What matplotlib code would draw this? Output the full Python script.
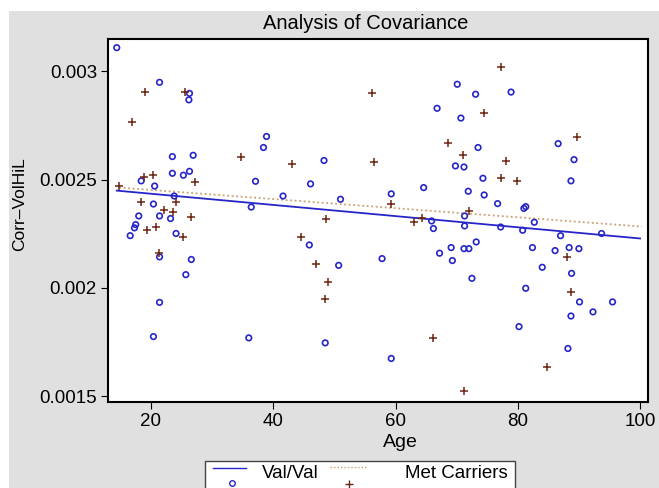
import matplotlib
matplotlib.use("Agg")
import matplotlib.pyplot as plt
from matplotlib.patches import Rectangle
from matplotlib.lines import Line2D

plt.rcParams['font.family'] = ['Liberation Sans', 'DejaVu Sans']

# Val/Val group (hollow blue circles)
valval_age = [14.4, 21.4, 26.3, 26.2, 38.9, 38.4, 23.5, 26.9, 23.5, 25.3,
              26.3, 18.4, 20.6, 37.1, 48.3, 46.1, 41.6, 51.0, 23.8, 36.4,
              20.4, 18.0, 21.4, 23.2, 17.5, 17.3, 16.6, 24.1, 45.9, 21.4,
              26.6, 25.7, 21.4, 20.4, 36.0, 50.7, 48.5, 57.8, 59.3, 67.2,
              69.1, 69.3, 71.2, 72.0, 73.2, 72.5, 80.8, 82.4, 86.1, 84.0,
              81.3, 80.2, 87.0, 88.4, 90.0, 93.7, 88.8, 90.1, 95.5, 92.3,
              88.7, 88.2, 70.1, 73.1, 78.9, 66.8, 70.7, 73.5, 86.6, 89.2,
              88.7, 69.8, 71.2, 74.3, 71.9, 74.5, 76.7, 59.3, 64.6, 81.0,
              81.3, 65.9, 66.2, 71.3, 71.3, 77.2, 82.7]
valval_corr = [0.003109, 0.002949, 0.002898, 0.002868, 0.002699, 0.002648, 0.002606, 0.002612, 0.002529, 0.002520,
               0.002538, 0.002494, 0.002470, 0.002492, 0.002588, 0.002480, 0.002424, 0.002409, 0.002424, 0.002373,
               0.002387, 0.002332, 0.002332, 0.002320, 0.002292, 0.002277, 0.002241, 0.002251, 0.002198, 0.002143,
               0.002131, 0.002061, 0.001933, 0.001775, 0.001769, 0.002104, 0.001746, 0.002135, 0.001674, 0.002160,
               0.002186, 0.002126, 0.002181, 0.002181, 0.002212, 0.002044, 0.002266, 0.002186, 0.002172, 0.002095,
               0.001998, 0.001821, 0.002241, 0.002186, 0.002181, 0.002251, 0.002067, 0.001935, 0.001935, 0.001889,
               0.001870, 0.001720, 0.002940, 0.002894, 0.002904, 0.002829, 0.002784, 0.002648, 0.002666, 0.002592,
               0.002494, 0.002563, 0.002558, 0.002506, 0.002446, 0.002429, 0.002389, 0.002434, 0.002463, 0.002367,
               0.002375, 0.002309, 0.002274, 0.002332, 0.002286, 0.002281, 0.002303]

# Met carriers (brown plus signs)
met_age = [19.1, 25.6, 16.9, 34.8, 43.0, 14.8, 18.9, 20.4, 27.2, 18.4,
           24.1, 22.1, 23.6, 26.5, 20.9, 19.4, 25.2, 48.6, 44.6, 21.3,
           47.0, 48.9, 48.4, 56.1, 56.4, 59.3, 72.1, 64.4, 63.0, 77.3,
           74.4, 68.6, 71.1, 78.0, 77.3, 79.8, 89.7, 88.0, 88.7, 66.2,
           84.8, 71.2]
met_corr = [0.002906, 0.002906, 0.002768, 0.002606, 0.002572, 0.002472, 0.002511, 0.002523, 0.002488, 0.002397,
            0.002395, 0.002358, 0.002350, 0.002329, 0.002283, 0.002267, 0.002234, 0.002317, 0.002235, 0.002163,
            0.002110, 0.002027, 0.001949, 0.002900, 0.002583, 0.002386, 0.002355, 0.002321, 0.002304, 0.003020,
            0.002809, 0.002671, 0.002612, 0.002588, 0.002505, 0.002492, 0.002697, 0.002141, 0.001980, 0.001767,
            0.001635, 0.001526]

# fitted lines (end points)
valval_fit_age = [14.4, 100.0]
valval_fit_corr = [0.002449, 0.002228]
met_fit_age = [14.8, 100.3]
met_fit_corr = [0.002463, 0.002283]

xticks = [20, 40, 60, 80, 100]
yticks = [0.0015, 0.002, 0.0025, 0.003]
ytick_labels = ['0.0015', '0.002', '0.0025', '0.003']

blue = '#2626c8'
brown = '#6e2410'
tan = '#c9a070'

W, H = 659, 488
fig = plt.figure(figsize=(W / 100, H / 100), dpi=100)
fig.patch.set_facecolor('white')


def fx(px):
    return px / W


def fy(py):
    return 1 - py / H


# gray graph region
fig.patches.append(Rectangle((fx(9), 0), 1, fy(11), transform=fig.transFigure,
                             facecolor='#e0e0e0', edgecolor='none', zorder=-5))

ax = fig.add_axes([fx(108), fy(402), fx(648) - fx(108), fy(39) - fy(402)])
ax.set_facecolor('white')

ax.plot(valval_fit_age, valval_fit_corr, color=blue, lw=1.3, zorder=2)
ax.plot(met_fit_age, met_fit_corr, color=tan, lw=1.3, ls=(0, (1, 1.5)), zorder=2)
ax.scatter(valval_age, valval_corr, s=16, facecolors='none', edgecolors=blue,
           linewidths=1.2, zorder=3)
ax.scatter(met_age, met_corr, s=30, marker='+', color=brown, linewidths=1.1, zorder=3)

ax.set_xlim(12.97, 101.3)
ax.set_ylim(0.001473, 0.003149)
ax.set_xticks(xticks)
ax.set_yticks(yticks)
ax.set_yticklabels(ytick_labels)
ax.tick_params(direction='out', length=5, width=0.8, labelsize=13.5, pad=3)
for s in ax.spines.values():
    s.set_linewidth(1.5)

fig.text(fx(366), fy(29), 'Analysis of Covariance', ha='center', va='baseline', fontsize=14.5)
fig.text(fx(400), fy(447), 'Age', ha='center', va='baseline', fontsize=14)
fig.text(fx(20), fy(204), 'Corr\u2013VolHiL', ha='center', va='center', rotation=90, fontsize=12.5)

# legend (Stata style: key line above, marker below), cut off at bottom
fig.patches.append(Rectangle((fx(205), fy(520)), fx(515) - fx(205), fy(461) - fy(520),
                             transform=fig.transFigure, facecolor='white',
                             edgecolor='#444444', lw=1.0, zorder=5))
fig.lines.append(Line2D([fx(213), fx(246)], [fy(468), fy(468)], transform=fig.transFigure,
                        color=blue, lw=1.0, zorder=6))
fig.lines.append(Line2D([fx(232)], [fy(483)], transform=fig.transFigure, ls='none',
                        marker='o', ms=4, mfc='none', mec=blue, mew=1.0, zorder=6))
fig.lines.append(Line2D([fx(330), fx(367)], [fy(467), fy(467)], transform=fig.transFigure,
                        color=tan, lw=1.0, ls=(0, (1, 1.5)), zorder=6))
fig.lines.append(Line2D([fx(349)], [fy(484)], transform=fig.transFigure, ls='none',
                        marker='+', ms=6, mec=brown, mew=1.0, zorder=6))
fig.text(fx(262), fy(478), 'Val/Val', va='baseline', fontsize=13.5, zorder=7)
fig.text(fx(405), fy(478), 'Met Carriers', va='baseline', fontsize=13.5, zorder=7)

fig.savefig('out.png', dpi=100)
